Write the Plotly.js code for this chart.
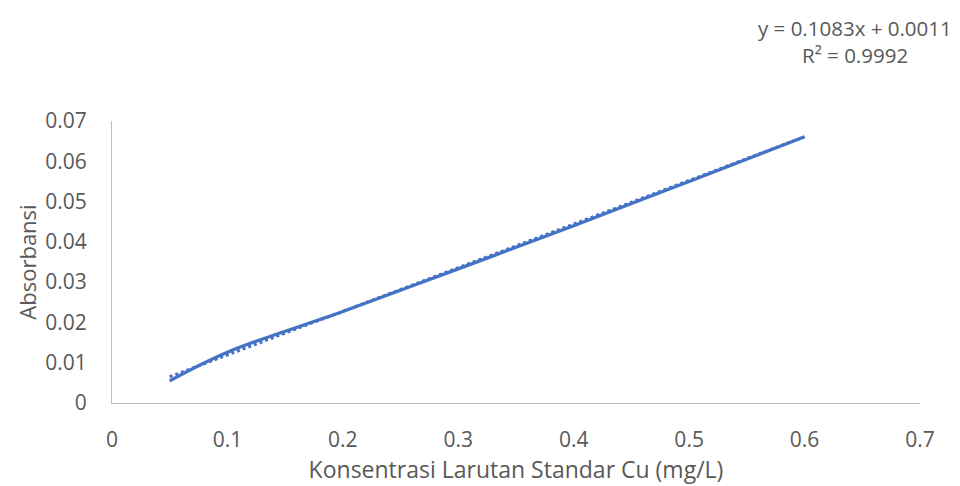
<!DOCTYPE html>
<html>
<head>
<meta charset="utf-8">
<script src="https://cdn.plot.ly/plotly-3.0.1.min.js"></script>
<style>html,body{margin:0;padding:0;background:#fff;}#chart{width:960px;height:486px;}</style>
</head>
<body>
<div id="chart"></div>
<script>
const concentration = [0.05, 0.1, 0.2, 0.3, 0.4, 0.5, 0.6];
const absorbance = [0.0055, 0.0126, 0.0227, 0.0333, 0.0440, 0.0550, 0.0661];
const slope = 0.1083;
const intercept = 0.0011;
const equationLine = "y = 0.1083x + 0.0011";
const rSquaredLine = "R² = 0.9992";
const xTitle = "Konsentrasi Larutan Standar Cu (mg/L)";
const yTitle = "Absorbansi";

const trendX = [concentration[0], concentration[concentration.length - 1]];
const trendY = trendX.map(x => slope * x + intercept);

const font = "'Open Sans', sans-serif";
const grey = "#595959";
const traces = [
  {x: trendX, y: trendY, mode: "lines", line: {color: "#4472C4", width: 3, dash: "dot"}, hoverinfo: "skip"},
  {x: concentration, y: absorbance, mode: "lines", line: {color: "#4472C4", width: 3.3, shape: "spline", smoothing: 1}}
];
const layout = {
  width: 960, height: 486,
  margin: {l: 112, r: 40, t: 121, b: 83},
  paper_bgcolor: "#fff", plot_bgcolor: "#fff",
  showlegend: false,
  font: {family: font, color: grey, size: 21},
  xaxis: {
    range: [0, 0.7], dtick: 0.1, tick0: 0, showgrid: false, zeroline: false,
    showline: true, linecolor: "#BFBFBF", linewidth: 1, ticks: "",
    tickfont: {family: font, size: 21, color: grey}, ticklabelstandoff: 18,
    title: {text: xTitle, font: {family: font, size: 23, color: grey}, standoff: 5}
  },
  yaxis: {
    range: [0, 0.07], dtick: 0.01, tick0: 0, showgrid: false, zeroline: false,
    showline: true, linecolor: "#BFBFBF", linewidth: 1, ticks: "",
    tickfont: {family: font, size: 21, color: grey}, ticklabelstandoff: 20,
    title: {text: yTitle, font: {family: font, size: 22, color: grey}, standoff: 2}
  },
  annotations: [
    {xref: "paper", yref: "paper", x: 0.9196, y: 1.3298, xanchor: "center", yanchor: "middle",
     text: equationLine, showarrow: false, font: {family: font, size: 20.5, color: grey}},
    {xref: "paper", yref: "paper", x: 0.9196, y: 1.234, xanchor: "center", yanchor: "middle",
     text: rSquaredLine, showarrow: false, font: {family: font, size: 20.5, color: grey}}
  ]
};
Plotly.newPlot("chart", traces, layout, {displayModeBar: false, staticPlot: true});
</script>
</body>
</html>
